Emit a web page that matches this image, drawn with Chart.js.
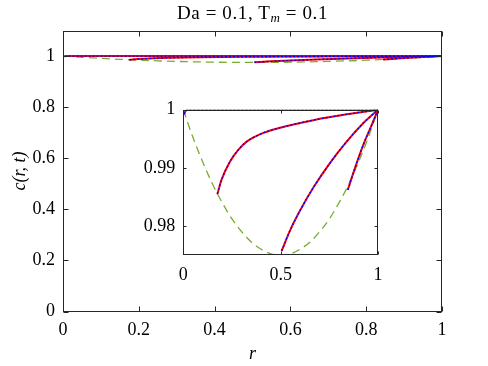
<!DOCTYPE html>
<html>
<head>
<meta charset="utf-8">
<script src="https://cdn.jsdelivr.net/npm/chart.js@4.4.1/dist/chart.umd.min.js"></script>
<style>
  body { margin: 0; background: #fff; }
  #wrap { position: relative; width: 488px; height: 366px; }
  canvas { position: absolute; }
  #title { position: absolute; left: 63px; width: 379px; top: 2px; text-align: center;
           font: 19px 'Liberation Serif', serif; letter-spacing: 0.6px; color: #000; }
  #title sub { font-size: 13px; vertical-align: -3px; line-height: 0; }
</style>
</head>
<body>
<div id="wrap">
  <canvas id="main" width="488" height="366" style="left:0;top:0"></canvas>
  <canvas id="inset" width="255" height="205" style="left:133px;top:95px"></canvas>
  <div id="title">Da = 0.1, T<sub><i>m</i></sub> = 0.1</div>
</div>
<script>
// values
// dashed green profile
const rEnv = [0, 0.05, 0.1, 0.15, 0.2, 0.25, 0.3, 0.35, 0.4, 0.45, 0.5, 0.55, 0.6, 0.65, 0.7, 0.75, 0.8, 0.85, 0.9, 0.95, 1]
const cEnv = [1, 0.9952, 0.991, 0.9872, 0.984, 0.9812, 0.979, 0.9772, 0.976, 0.9752, 0.975, 0.9752, 0.976, 0.9772, 0.979, 0.9812, 0.984, 0.9872, 0.991, 0.9952, 1]
// red / blue curves
const rA = [0.004, 0.01, 0.025, 1]
const cA = [0.9992, 0.9997, 1, 1]
const rB = [0.175, 0.197, 0.24, 0.2825, 0.3255, 0.411, 0.497, 0.668, 0.839, 1]
const cB = [0.9855, 0.988, 0.9911, 0.9931, 0.9945, 0.996, 0.9969, 0.9982, 0.9992, 1]
const rC = [0.505, 0.548, 0.599, 0.668, 0.753, 0.839, 0.925, 1]
const cC = [0.9757, 0.9792, 0.9826, 0.9866, 0.9908, 0.9945, 0.9977, 1]
const rD = [0.845, 0.882, 0.925, 0.968, 1]
const cD = [0.9862, 0.99, 0.994, 0.9974, 1]

// tick labels
const mainXTicks = [0, 0.2, 0.4, 0.6, 0.8, 1]
const mainYTicks = [0, 0.2, 0.4, 0.6, 0.8, 1]
const insetXTicks = [0, 0.5, 1]
const insetYTicks = [0.98, 0.99, 1]

const FONT = 'Liberation Serif'
const AX = '#262626'

const pts = (r, c) => r.map((v, i) => ({ x: v, y: c[i] }))
const fmt = v => String(Number(Number(v).toFixed(3)))

function makeDatasets() {
    const curves = [pts(rA, cA), pts(rB, cB), pts(rC, cC), pts(rD, cD)]
    const sets = []
    curves.forEach(d => sets.push({ data: d, borderColor: '#0000ff', borderWidth: 1.3, borderDash: [2, 2], order: 0 }))
    curves.forEach(d => sets.push({ data: d, borderColor: '#ff0000', borderWidth: 2, order: 1 }))
    sets.push({ data: pts(rEnv, cEnv), borderColor: '#77ac30', borderWidth: 1.3, borderDash: [8, 5], order: 2 })
    sets.forEach(s => { s.showLine = true; s.pointRadius = 0; s.fill = false; s.cubicInterpolationMode = 'monotone' })
    return sets
}

//box + inward ticks like matlab
const boxPlugin = {
    id: 'box',
    beforeDatasetsDraw(chart) {
        const a = chart.chartArea, ctx = chart.ctx
        ctx.save()
        ctx.fillStyle = '#fff'
        ctx.fillRect(a.left, a.top, a.right - a.left, a.bottom - a.top)
        ctx.restore()
    },
    afterDatasetsDraw(chart) {
        const a = chart.chartArea, ctx = chart.ctx
        const len = chart.options.tickLen
        const x = chart.scales.x, y = chart.scales.y
        const L = Math.round(a.left) + 0.5, R = Math.round(a.right) - 0.5
        const T = Math.round(a.top) + 0.5, B = Math.round(a.bottom) - 0.5
        ctx.save()
        ctx.strokeStyle = AX
        ctx.lineWidth = 1
        ctx.beginPath()
        x.ticks.forEach(t => {
            const px = Math.round(x.getPixelForValue(t.value)) + 0.5
            ctx.moveTo(px, B); ctx.lineTo(px, B - len)
            ctx.moveTo(px, T); ctx.lineTo(px, T + len)
        })
        y.ticks.forEach(t => {
            const py = Math.round(y.getPixelForValue(t.value)) + 0.5
            ctx.moveTo(L, py); ctx.lineTo(L + len, py)
            ctx.moveTo(R, py); ctx.lineTo(R - len, py)
        })
        ctx.stroke()
        ctx.strokeRect(L, T, R - L, B - T)
        ctx.restore()
    }
}

function makeConfig(o) {
    return {
        type: 'scatter',
        data: { datasets: makeDatasets() },
        options: {
            responsive: false,
            animation: false,
            devicePixelRatio: 1,
            tickLen: o.tickLen,
            layout: { padding: o.padding },
            plugins: { legend: { display: false }, tooltip: { enabled: false } },
            scales: {
                x: {
                    type: 'linear', min: 0, max: 1,
                    afterBuildTicks: s => { s.ticks = o.xTicks.map(v => ({ value: v })) },
                    afterFit: s => { s.height = o.xHeight },
                    grid: { display: false }, border: { display: false },
                    ticks: { padding: o.xPad, color: '#000', autoSkip: false, maxRotation: 0,
                             font: { family: FONT, size: 18 }, callback: v => fmt(v) },
                    title: o.xTitle
                },
                y: {
                    type: 'linear', min: o.yMin, max: o.yMax,
                    afterBuildTicks: s => { s.ticks = o.yTicks.map(v => ({ value: v })) },
                    afterFit: s => { s.width = o.yWidth },
                    grid: { display: false }, border: { display: false },
                    ticks: { padding: o.yPad, color: '#000', autoSkip: false,
                             font: { family: FONT, size: 18 }, callback: v => fmt(v) },
                    title: o.yTitle
                }
            }
        },
        plugins: [boxPlugin]
    }
}

new Chart(document.getElementById('main'), makeConfig({
    padding: { top: 30.5, right: 46, bottom: 0, left: 0 },
    xTicks: mainXTicks, yTicks: mainYTicks,
    yMin: 0, yMax: 1.1,
    xHeight: 54.5, yWidth: 63,
    xPad: 0, yPad: 0, tickLen: 5,
    xTitle: { display: true, text: 'r', color: '#000', padding: { top: 0, bottom: 1 },
              font: { family: FONT, size: 18, style: 'italic' } },
    yTitle: { display: true, text: 'c(r, t)', color: '#000', padding: { top: 9, bottom: 0 },
              font: { family: FONT, size: 18, style: 'italic' } }
}))

new Chart(document.getElementById('inset'), makeConfig({
    padding: { top: 14.7, right: 10, bottom: 0, left: 0 },
    xTicks: insetXTicks, yTicks: insetYTicks,
    yMin: 0.975, yMax: 1,
    xHeight: 45, yWidth: 50.3,
    xPad: 1, yPad: 0, tickLen: 3,
    xTitle: { display: false },
    yTitle: { display: false }
}))
</script>
</body>
</html>
